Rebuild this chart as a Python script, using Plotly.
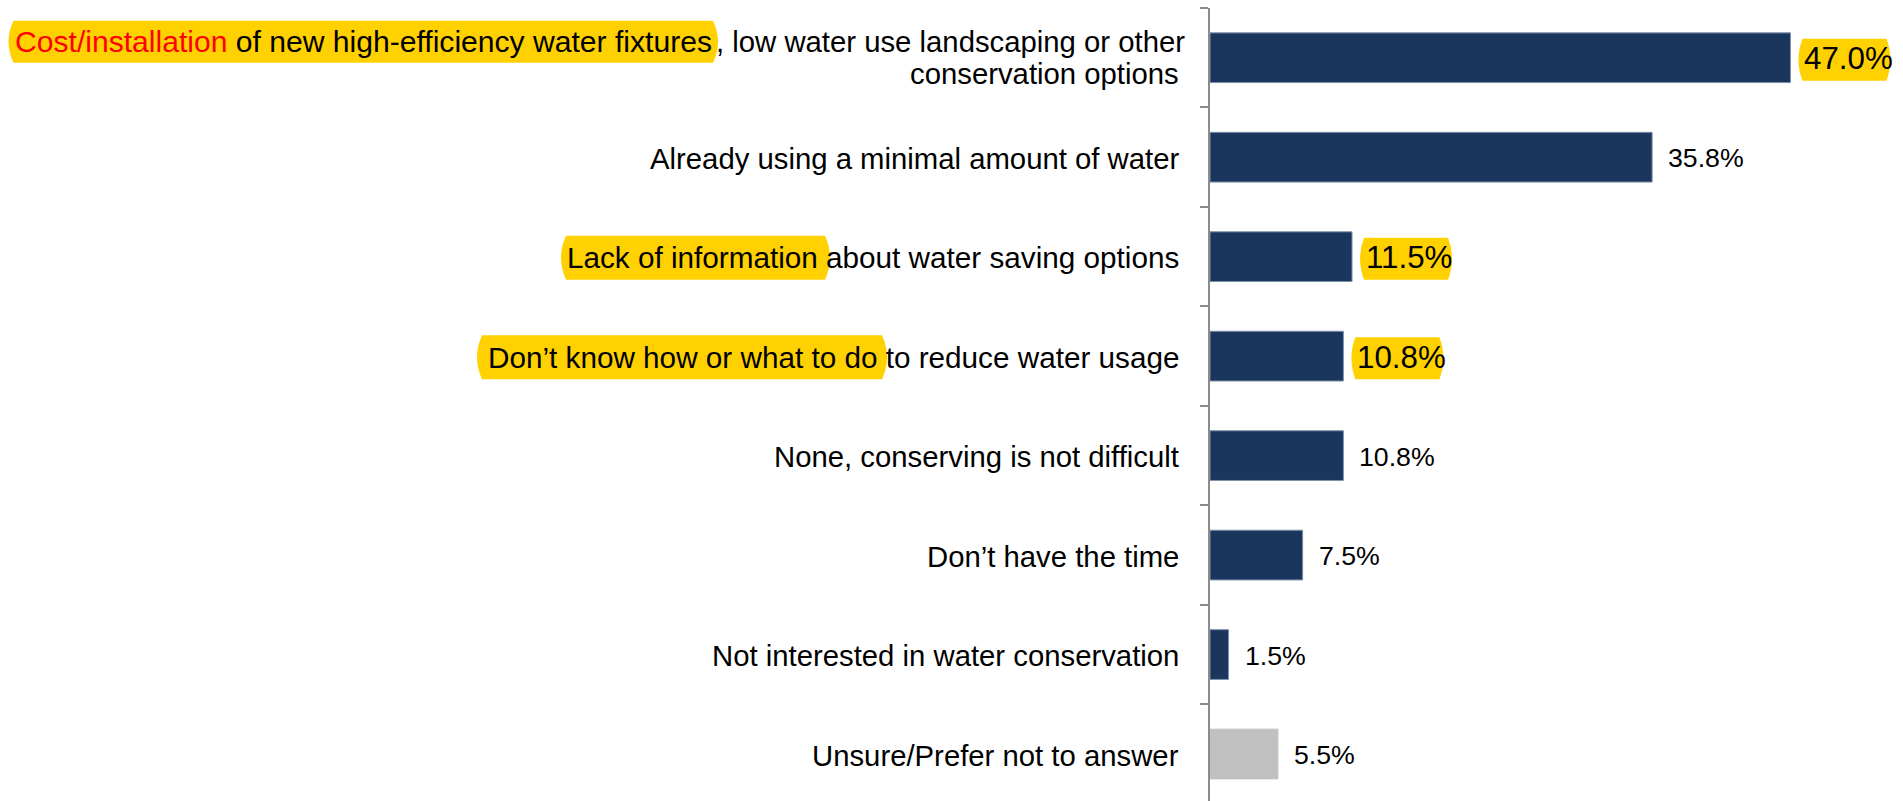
import plotly.graph_objects as go

# Survey responses: barriers to conserving water
categories = [
    "Cost/installation of new high-efficiency water fixtures, low water use landscaping or other conservation options",
    "Already using a minimal amount of water",
    "Lack of information about water saving options",
    "Don\u2019t know how or what to do to reduce water usage",
    "None, conserving is not difficult",
    "Don\u2019t have the time",
    "Not interested in water conservation",
    "Unsure/Prefer not to answer",
]
shares = [47.0, 35.8, 11.5, 10.8, 10.8, 7.5, 1.5, 5.5]

# Display text for the category labels
first_line_marked = "<span style='color:#FF0000'>Cost/installation</span> of new high-efficiency water fixtures"
first_line_rest = ", low water use landscaping or other"
first_line_second = "conservation options"
label_text = [
    None,
    "Already using a minimal amount of water",
    "Lack of information about water saving options",
    "Don\u2019t know how or what to do to reduce water usage",
    "None, conserving is not difficult",
    "Don\u2019t have the time",
    "Not interested in water conservation",
    "Unsure/Prefer not to answer",
]
emphasised = [True, False, True, True, False, False, False, False]
is_unsure = [False] * 7 + [True]

NAVY = "#1B365D"
GREY = "#C0C0C0"
YELLOW = "#FFD100"
FONT = "Liberation Sans, Arial, Helvetica, sans-serif"

W, H = 1903, 801
ML, MR, MT, MB = 1210, 0, 8, 0
PX_PER_UNIT = 12.35
XMAX = (W - ML - MR) / PX_PER_UNIT
plot_h = H - MT - MB
step = 99.47
y_bottom = -0.5 + plot_h / step

bar_colors = [GREY if u else NAVY for u in is_unsure]
line_colors = [GREY if u else "#7D90AA" for u in is_unsure]

fig = go.Figure(
    go.Bar(
        x=shares,
        y=categories,
        orientation="h",
        width=0.5,
        marker=dict(color=bar_colors, line=dict(color=line_colors, width=1)),
        hoverinfo="skip",
    )
)


def pill(x0, x1, yc, h, b):
    top, bot = yc + h / 2, yc - h / 2
    return (f"M {x0 + b},{top} L {x1 - b},{top} Q {x1 + b},{yc} {x1 - b},{bot} "
            f"L {x0 + b},{bot} Q {x0 - b},{yc} {x0 + b},{top} Z")


shapes = []
annotations = []

# Yellow markers behind the key phrases of the category labels (pixels from the axis)
label_marks = {
    0: (8.5 - ML, 718 - ML, 16, 42),
    2: (561 - ML, 830 - ML, -1, 44),
    3: (477 - ML, 887 - ML, -1, 44),
}
for i, (x0, x1, yc, h) in label_marks.items():
    shapes.append(dict(
        type="path", xref="paper", yref="y", xsizemode="pixel", ysizemode="pixel",
        xanchor=0, yanchor=categories[i], path=pill(x0, x1, yc, h, 5),
        fillcolor=YELLOW, line=dict(width=0), layer="below",
    ))

label_font = dict(family=FONT, size=29.3, color="#000000")
marked_font = dict(family=FONT, size=29.7, color="#000000")

# First label: marked phrase, the rest of line one, and line two
annotations.append(dict(
    text=first_line_marked, xref="paper", x=0, xanchor="left", xshift=13 - ML,
    yref="y", y=categories[0], yanchor="middle", yshift=16,
    showarrow=False, font=dict(family=FONT, size=30.1, color="#000000"),
))
annotations.append(dict(
    text=first_line_rest, xref="paper", x=0, xanchor="right", xshift=-23,
    yref="y", y=categories[0], yanchor="middle", yshift=16,
    showarrow=False, font=label_font,
))
annotations.append(dict(
    text=first_line_second, xref="paper", x=0, xanchor="right", xshift=-29,
    yref="y", y=categories[0], yanchor="middle", yshift=-16,
    showarrow=False, font=label_font,
))

# Remaining category labels
for i, t in enumerate(label_text):
    if t is None:
        continue
    annotations.append(dict(
        text=t, xref="paper", x=0, xanchor="right", xshift=-29,
        yref="y", y=categories[i], yanchor="middle", yshift=-1,
        showarrow=False, font=marked_font if emphasised[i] else label_font,
    ))

# Value labels at the bar ends
for i, v in enumerate(shares):
    if emphasised[i]:
        shapes.append(dict(
            type="path", xref="x", yref="y", xsizemode="pixel", ysizemode="pixel",
            xanchor=v, yanchor=categories[i], path=pill(8, 100, -2, 42, 4),
            fillcolor=YELLOW, line=dict(width=0), layer="above",
        ))
        annotations.append(dict(
            text=f"{v:.1f}%", xref="x", x=v, xanchor="left", xshift=12,
            yref="y", y=categories[i], yanchor="middle", yshift=-1,
            showarrow=False, font=dict(family=FONT, size=31.3, color="#000000"),
        ))
    else:
        annotations.append(dict(
            text=f"{v:.1f}%", xref="x", x=v, xanchor="left", xshift=14,
            yref="y", y=categories[i], yanchor="middle", yshift=-1,
            showarrow=False, font=dict(family=FONT, size=26.7, color="#000000"),
        ))

fig.update_layout(
    width=W, height=H,
    margin=dict(l=ML, r=MR, t=MT, b=MB, pad=0),
    paper_bgcolor="#FFFFFF", plot_bgcolor="#FFFFFF",
    showlegend=False, hovermode=False,
    shapes=shapes, annotations=annotations,
    xaxis=dict(range=[0, XMAX], visible=False, fixedrange=True),
    yaxis=dict(
        type="category", categoryorder="array", categoryarray=categories,
        range=[y_bottom, -0.5],
        showline=True, linecolor="#8C8C8C", linewidth=2,
        ticks="outside", tickson="boundaries", ticklen=8, tickwidth=2, tickcolor="#8C8C8C",
        showticklabels=False, showgrid=False, zeroline=False, fixedrange=True,
    ),
)

fig.write_html("out.html", config={"displayModeBar": False})
